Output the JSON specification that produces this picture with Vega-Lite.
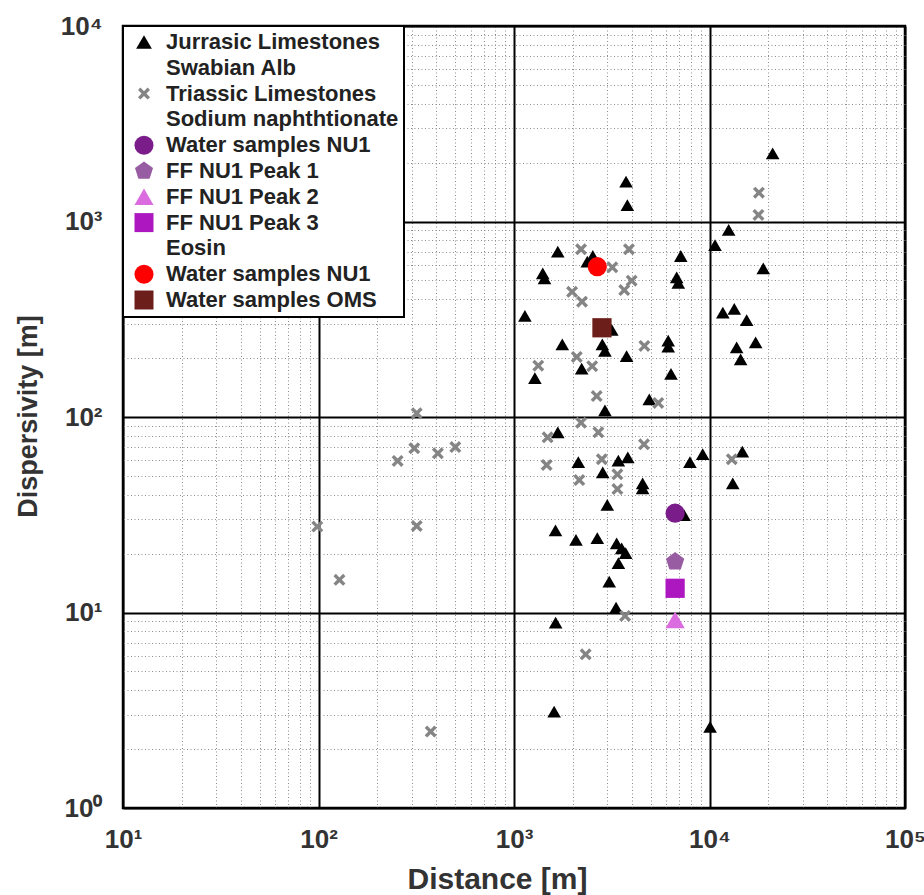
{
  "$schema": "https://vega.github.io/schema/vega-lite/v6.json",
  "width": 782,
  "height": 782,
  "autosize": {"type": "none"},
  "padding": {"left": 123, "top": 26, "right": 19, "bottom": 87},
  "background": "white",
  "config": {
    "view": {"stroke": "black", "strokeWidth": 2.5},
    "font": "Liberation Sans"
  },
  "data": {
    "values": [
      {"d": 21040, "disp": 2233, "series": "Jurrasic Limestones"},
      {"d": 3742, "disp": 1599, "series": "Jurrasic Limestones"},
      {"d": 3800, "disp": 1214, "series": "Jurrasic Limestones"},
      {"d": 12530, "disp": 905, "series": "Jurrasic Limestones"},
      {"d": 10670, "disp": 758, "series": "Jurrasic Limestones"},
      {"d": 1675, "disp": 701, "series": "Jurrasic Limestones"},
      {"d": 2530, "disp": 666, "series": "Jurrasic Limestones"},
      {"d": 2371, "disp": 623, "series": "Jurrasic Limestones"},
      {"d": 7130, "disp": 666, "series": "Jurrasic Limestones"},
      {"d": 1403, "disp": 543, "series": "Jurrasic Limestones"},
      {"d": 1432, "disp": 512, "series": "Jurrasic Limestones"},
      {"d": 6793, "disp": 518, "series": "Jurrasic Limestones"},
      {"d": 6924, "disp": 486, "series": "Jurrasic Limestones"},
      {"d": 18840, "disp": 576, "series": "Jurrasic Limestones"},
      {"d": 1137, "disp": 329, "series": "Jurrasic Limestones"},
      {"d": 3163, "disp": 279, "series": "Jurrasic Limestones"},
      {"d": 11700, "disp": 342, "series": "Jurrasic Limestones"},
      {"d": 13390, "disp": 357, "series": "Jurrasic Limestones"},
      {"d": 15490, "disp": 313, "series": "Jurrasic Limestones"},
      {"d": 1766, "disp": 235, "series": "Jurrasic Limestones"},
      {"d": 2830, "disp": 235, "series": "Jurrasic Limestones"},
      {"d": 2919, "disp": 218, "series": "Jurrasic Limestones"},
      {"d": 6150, "disp": 246, "series": "Jurrasic Limestones"},
      {"d": 6150, "disp": 229, "series": "Jurrasic Limestones"},
      {"d": 17220, "disp": 241, "series": "Jurrasic Limestones"},
      {"d": 13770, "disp": 227, "series": "Jurrasic Limestones"},
      {"d": 14430, "disp": 197, "series": "Jurrasic Limestones"},
      {"d": 3767, "disp": 205, "series": "Jurrasic Limestones"},
      {"d": 2219, "disp": 177, "series": "Jurrasic Limestones"},
      {"d": 1279, "disp": 158, "series": "Jurrasic Limestones"},
      {"d": 6354, "disp": 166, "series": "Jurrasic Limestones"},
      {"d": 4920, "disp": 123, "series": "Jurrasic Limestones"},
      {"d": 2919, "disp": 108, "series": "Jurrasic Limestones"},
      {"d": 1675, "disp": 83.5, "series": "Jurrasic Limestones"},
      {"d": 9230, "disp": 64.5, "series": "Jurrasic Limestones"},
      {"d": 3820, "disp": 62.2, "series": "Jurrasic Limestones"},
      {"d": 3418, "disp": 59.8, "series": "Jurrasic Limestones"},
      {"d": 2133, "disp": 58.7, "series": "Jurrasic Limestones"},
      {"d": 7943, "disp": 58.7, "series": "Jurrasic Limestones"},
      {"d": 2844, "disp": 52.1, "series": "Jurrasic Limestones"},
      {"d": 4549, "disp": 45.8, "series": "Jurrasic Limestones"},
      {"d": 4549, "disp": 43.2, "series": "Jurrasic Limestones"},
      {"d": 3000, "disp": 35.5, "series": "Jurrasic Limestones"},
      {"d": 7410, "disp": 31.5, "series": "Jurrasic Limestones"},
      {"d": 1630, "disp": 26.3, "series": "Jurrasic Limestones"},
      {"d": 2075, "disp": 23.5, "series": "Jurrasic Limestones"},
      {"d": 2667, "disp": 24.0, "series": "Jurrasic Limestones"},
      {"d": 3350, "disp": 22.6, "series": "Jurrasic Limestones"},
      {"d": 3555, "disp": 21.3, "series": "Jurrasic Limestones"},
      {"d": 3725, "disp": 20.1, "series": "Jurrasic Limestones"},
      {"d": 3420, "disp": 17.9, "series": "Jurrasic Limestones"},
      {"d": 3070, "disp": 14.4, "series": "Jurrasic Limestones"},
      {"d": 3327, "disp": 10.6, "series": "Jurrasic Limestones"},
      {"d": 1633, "disp": 8.87, "series": "Jurrasic Limestones"},
      {"d": 1604, "disp": 3.11, "series": "Jurrasic Limestones"},
      {"d": 10070, "disp": 2.6, "series": "Jurrasic Limestones"},
      {"d": 14720, "disp": 66.5, "series": "Jurrasic Limestones"},
      {"d": 13150, "disp": 45.8, "series": "Jurrasic Limestones"},
      {"d": 17900, "disp": 1404, "series": "Triassic Limestones"},
      {"d": 17800, "disp": 1080, "series": "Triassic Limestones"},
      {"d": 2203, "disp": 721, "series": "Triassic Limestones"},
      {"d": 3873, "disp": 721, "series": "Triassic Limestones"},
      {"d": 3184, "disp": 583, "series": "Triassic Limestones"},
      {"d": 3998, "disp": 498, "series": "Triassic Limestones"},
      {"d": 3664, "disp": 446, "series": "Triassic Limestones"},
      {"d": 1982, "disp": 437, "series": "Triassic Limestones"},
      {"d": 2228, "disp": 389, "series": "Triassic Limestones"},
      {"d": 4645, "disp": 231, "series": "Triassic Limestones"},
      {"d": 2095, "disp": 203, "series": "Triassic Limestones"},
      {"d": 2512, "disp": 182, "series": "Triassic Limestones"},
      {"d": 1331, "disp": 183, "series": "Triassic Limestones"},
      {"d": 2648, "disp": 128, "series": "Triassic Limestones"},
      {"d": 5470, "disp": 118, "series": "Triassic Limestones"},
      {"d": 318, "disp": 104.5, "series": "Triassic Limestones"},
      {"d": 2203, "disp": 93.5, "series": "Triassic Limestones"},
      {"d": 1486, "disp": 78.7, "series": "Triassic Limestones"},
      {"d": 2700, "disp": 83.5, "series": "Triassic Limestones"},
      {"d": 4624, "disp": 72.5, "series": "Triassic Limestones"},
      {"d": 309, "disp": 69.2, "series": "Triassic Limestones"},
      {"d": 254, "disp": 59.6, "series": "Triassic Limestones"},
      {"d": 408, "disp": 65.2, "series": "Triassic Limestones"},
      {"d": 501, "disp": 70.2, "series": "Triassic Limestones"},
      {"d": 2813, "disp": 60.8, "series": "Triassic Limestones"},
      {"d": 13000, "disp": 60.8, "series": "Triassic Limestones"},
      {"d": 1469, "disp": 56.8, "series": "Triassic Limestones"},
      {"d": 3380, "disp": 50.9, "series": "Triassic Limestones"},
      {"d": 2158, "disp": 47.6, "series": "Triassic Limestones"},
      {"d": 3380, "disp": 42.8, "series": "Triassic Limestones"},
      {"d": 98.6, "disp": 27.5, "series": "Triassic Limestones"},
      {"d": 318, "disp": 27.7, "series": "Triassic Limestones"},
      {"d": 128, "disp": 14.7, "series": "Triassic Limestones"},
      {"d": 3700, "disp": 9.6, "series": "Triassic Limestones"},
      {"d": 2326, "disp": 6.11, "series": "Triassic Limestones"},
      {"d": 375, "disp": 2.46, "series": "Triassic Limestones"},
      {"d": 6670, "disp": 32.2, "series": "Water samples NU1"},
      {"d": 6670, "disp": 18.2, "series": "FF NU1 Peak 1"},
      {"d": 6670, "disp": 9.16, "series": "FF NU1 Peak 2"},
      {"d": 6670, "disp": 13.3, "series": "FF NU1 Peak 3"},
      {"d": 2667, "disp": 587, "series": "Water samples NU1 "},
      {"d": 2818, "disp": 286, "series": "Water samples OMS"}
    ]
  },
  "encoding": {
    "x": {"field": "d", "type": "quantitative", "scale": {"type": "log", "domain": [10, 100000]}},
    "y": {"field": "disp", "type": "quantitative", "scale": {"type": "log", "domain": [1, 10000]}}
  },
  "layer": [
    {
      "mark": {"type": "point", "opacity": 0},
      "encoding": {
        "x": {
          "field": "d", "type": "quantitative",
          "axis": {
            "orient": "top", "title": null, "labels": false, "ticks": false, "domain": false,
            "values": [20,30,40,50,60,70,80,90,200,300,400,500,600,700,800,900,2000,3000,4000,5000,6000,7000,8000,9000,20000,30000,40000,50000,60000,70000,80000,90000],
            "grid": true, "gridColor": "#8c8c8c", "gridWidth": 1, "gridDash": [1, 2.5], "gridOpacity": 1
          }
        },
        "y": {
          "field": "disp", "type": "quantitative",
          "axis": {
            "orient": "right", "title": null, "labels": false, "ticks": false, "domain": false,
            "values": [2,3,4,5,6,7,8,9,20,30,40,50,60,70,80,90,200,300,400,500,600,700,800,900,2000,3000,4000,5000,6000,7000,8000,9000],
            "grid": true, "gridColor": "#8c8c8c", "gridWidth": 1, "gridDash": [1, 2.5], "gridOpacity": 1
          }
        }
      }
    },
    {
      "transform": [{"filter": "datum.series === 'Jurrasic Limestones'"}],
      "mark": {"type": "point", "filled": true, "opacity": 1, "size": 185},
      "encoding": {
        "x": {
          "field": "d", "type": "quantitative",
          "axis": {
            "orient": "bottom", "title": "Distance [m]",
            "values": [10, 100, 1000, 10000, 100000],
            "labelExpr": "datum.value < 50 ? '10¹' : datum.value < 500 ? '10²' : datum.value < 5000 ? '10³' : datum.value < 50000 ? '10⁴' : '10⁵'",
            "labelFont": "Liberation Sans", "labelFontWeight": "bold", "labelFontSize": 26, "labelColor": "#333333",
            "labelPadding": 18, "labelFlush": false, "labelOverlap": false,
            "ticks": false, "domain": false,
            "grid": true, "gridColor": "black", "gridWidth": 2, "gridOpacity": 1,
            "titleFont": "Liberation Sans", "titleFontWeight": "bold", "titleFontSize": 30, "titleColor": "#333333", "titlePadding": 12,
            "titleX": 374
          }
        },
        "y": {
          "field": "disp", "type": "quantitative",
          "axis": {
            "orient": "left", "title": "Dispersivity [m]",
            "values": [1, 10, 100, 1000, 10000],
            "labelExpr": "datum.value < 5 ? '10⁰' : datum.value < 50 ? '10¹' : datum.value < 500 ? '10²' : datum.value < 5000 ? '10³' : '10⁴'",
            "labelFont": "Liberation Sans", "labelFontWeight": "bold", "labelFontSize": 26, "labelColor": "#333333",
            "labelPadding": 21, "labelFlush": false, "labelOverlap": false,
            "ticks": false, "domain": false,
            "grid": true, "gridColor": "black", "gridWidth": 2, "gridOpacity": 1,
            "titleFont": "Liberation Sans", "titleFontWeight": "bold", "titleFontSize": 27, "titleColor": "#333333", "titlePadding": 18,
            "titleY": 390
          }
        },
        "color": {
          "field": "series", "type": "nominal",
          "scale": {
            "domain": ["Jurrasic Limestones", "Swabian Alb", "Triassic Limestones", "Sodium naphthtionate", "Water samples NU1", "FF NU1 Peak 1", "FF NU1 Peak 2", "FF NU1 Peak 3", "Eosin", "Water samples NU1 ", "Water samples OMS"],
            "range": ["#000000", "transparent", "#858585", "transparent", "#7a1c8a", "#985ca2", "#da6ce0", "#ad17bf", "transparent", "#ff0000", "#6b1e1a"]
          },
          "legend": {
            "title": null, "orient": "top-left", "offset": 0,
            "strokeColor": "black", "fillColor": "white",
            "padding": 5, "symbolOffset": 5, "rowPadding": 3.8, "labelOffset": 11, "labelLimit": 400,
            "labelFont": "Liberation Sans", "labelFontWeight": "bold", "labelFontSize": 22, "labelColor": "#222222",
            "symbolSize": 361, "symbolStrokeWidth": 0, "symbolOpacity": 1,
            "encode": {
              "legend": {"update": {"strokeWidth": {"value": 2}}},
              "symbols": {
                "update": {
                  "size": {"signal": "datum.value === 'Triassic Limestones' ? 144 : datum.value === 'Jurrasic Limestones' ? 250 : 361"}
                }
              }
            }
          }
        },
        "shape": {
          "field": "series", "type": "nominal",
          "scale": {
            "domain": ["Jurrasic Limestones", "Swabian Alb", "Triassic Limestones", "Sodium naphthtionate", "Water samples NU1", "FF NU1 Peak 1", "FF NU1 Peak 2", "FF NU1 Peak 3", "Eosin", "Water samples NU1 ", "Water samples OMS"],
            "range": ["triangle-up", "circle", "M-1,-0.6L-0.6,-1L0,-0.4L0.6,-1L1,-0.6L0.4,0L1,0.6L0.6,1L0,0.4L-0.6,1L-1,0.6L-0.4,0Z", "circle", "circle", "M0,-1L0.951,-0.309L0.588,0.809L-0.588,0.809L-0.951,-0.309Z", "triangle-up", "square", "circle", "circle", "square"]
          }
        }
      }
    },
    {
      "transform": [{"filter": "datum.series === 'Triassic Limestones'"}],
      "mark": {"type": "point", "filled": true, "opacity": 1, "size": 144},
      "encoding": {
        "x": {"field": "d", "type": "quantitative", "axis": null},
        "y": {"field": "disp", "type": "quantitative", "axis": null},
        "color": {"field": "series", "type": "nominal"},
        "shape": {"field": "series", "type": "nominal"}
      }
    },
    {
      "transform": [{"filter": "datum.series !== 'Jurrasic Limestones' && datum.series !== 'Triassic Limestones'"}],
      "mark": {"type": "point", "filled": true, "opacity": 1, "size": 370},
      "encoding": {
        "x": {"field": "d", "type": "quantitative", "axis": null},
        "y": {"field": "disp", "type": "quantitative", "axis": null},
        "color": {"field": "series", "type": "nominal"},
        "shape": {"field": "series", "type": "nominal"}
      }
    }
  ],
  "resolve": {"axis": {"x": "independent", "y": "independent"}}
}
